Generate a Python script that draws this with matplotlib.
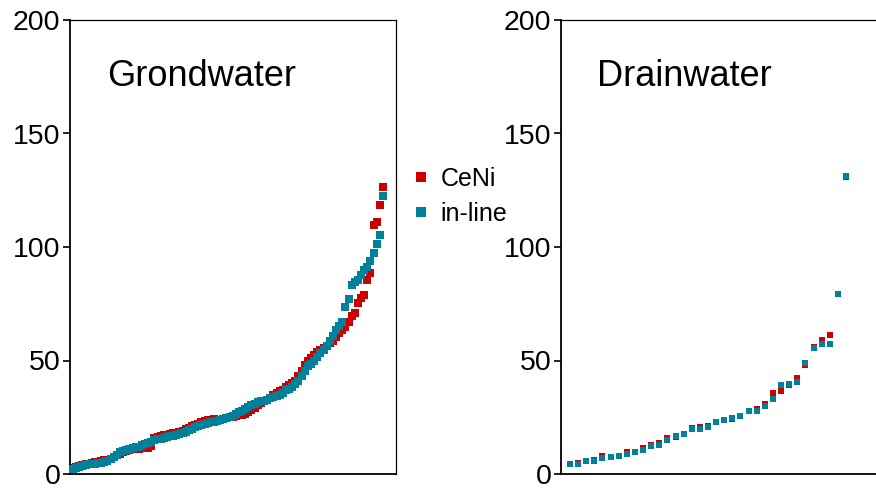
import matplotlib
matplotlib.use("Agg")
import matplotlib.pyplot as plt
from matplotlib.lines import Line2D

plt.rcParams['font.family'] = ['Liberation Sans', 'DejaVu Sans']

# Grondwater: sorted concentrations, ranked
gw_ceni = [2.5, 3.2, 3.5, 3.8, 4.2, 4.6, 5.0, 5.3, 5.5, 5.8,
           6.0, 6.2, 6.6, 7.3, 8.2, 9.0, 9.5, 10.0, 10.5, 10.8,
           11.0, 11.2, 11.3, 11.5, 11.6, 12.2, 15.8, 16.2, 16.6, 17.0,
           17.3, 17.6, 17.9, 18.2, 18.6, 18.9, 19.8, 20.4, 21.0, 21.7,
           22.2, 22.7, 23.2, 23.6, 24.0, 24.2, 23.6, 24.0, 24.3, 24.6,
           24.9, 25.2, 25.5, 25.8, 26.1, 26.5, 27.3, 28.2, 29.2, 30.2,
           31.2, 32.0, 32.7, 33.5, 34.8, 35.6, 36.4, 37.2, 38.2, 39.2,
           40.0, 41.0, 43.0, 45.5, 48.0, 49.6, 51.0, 52.4, 53.8, 54.8,
           55.5, 56.5, 57.5, 58.8, 60.5, 62.0, 63.5, 64.9, 67.0, 69.5,
           71.1, 75.5, 77.4, 78.9, 85.5, 88.5, 109.7, 111.1, 118.6, 126.6]
gw_inline = [2.0, 2.5, 3.0, 3.6, 4.0, 4.3, 4.5, 4.6, 4.7, 5.0,
             5.4, 5.8, 6.6, 7.5, 8.5, 9.5, 10.0, 10.6, 11.0, 11.4,
             11.8, 12.0, 12.6, 13.2, 13.8, 14.3, 14.8, 15.2, 15.6, 16.0,
             16.3, 16.6, 16.9, 17.2, 17.6, 17.9, 18.6, 19.2, 19.8, 20.5,
             21.0, 21.5, 22.0, 22.4, 22.8, 23.0, 23.4, 23.8, 24.2, 24.7,
             25.0, 25.6, 26.5, 27.2, 27.8, 28.6, 29.5, 30.3, 31.0, 31.5,
             32.0, 32.3, 32.6, 33.3, 34.0, 34.5, 35.0, 35.8, 36.8, 37.6,
             38.4, 39.5, 41.0, 43.0, 45.5, 47.5, 48.5, 50.0, 51.5, 53.2,
             54.8, 56.5, 58.5, 61.0, 63.5, 65.2, 67.0, 73.7, 77.0, 83.3,
             84.5, 85.5, 87.5, 90.0, 91.3, 94.0, 97.5, 101.5, 105.5, 122.5]

# Drainwater: sorted concentrations, ranked
dw_ceni = [4.4, 5.0, 5.7, 6.2, 7.9, 7.6, 8.1, 9.5, 9.7, 11.6,
           12.9, 13.6, 15.9, 16.2, 17.6, 20.1, 20.6, 21.2, 23.0, 23.9,
           24.3, 25.7, 27.9, 28.5, 30.7, 35.5, 36.7, 39.0, 42.1, 48.0,
           56.1, 59.0, 61.2, 79.4, 131.0]
dw_inline = [4.4, 4.4, 5.7, 5.7, 7.2, 7.6, 8.1, 8.8, 9.7, 10.6,
             12.3, 12.9, 15.1, 16.7, 17.6, 19.7, 20.0, 20.6, 23.0, 23.9,
             24.7, 25.7, 27.9, 27.9, 30.1, 33.2, 39.2, 39.5, 40.7, 49.0,
             55.6, 57.1, 57.4, 79.4, 131.3]

panels = ["Grondwater", "Drainwater"]
series_labels = ["CeNi", "in-line"]
colors = ["#CC0000", "#00819A"]
y_ticks = [0, 50, 100, 150, 200]

W, H = 876, 490
fig = plt.figure(figsize=(W / 100, H / 100), dpi=100)

ax1 = fig.add_axes([70 / W, 16 / H, 326 / W, 454 / H])
ax2 = fig.add_axes([561 / W, 16 / H, 315 / W, 454 / H])

datasets = [(gw_ceni, gw_inline, 27), (dw_ceni, dw_inline, 23)]
for ax, title, (ceni, inline, msize) in zip([ax1, ax2], panels, datasets):
    n = len(ceni)
    ranks = list(range(1, n + 1))
    ax.scatter(ranks, ceni, marker='s', s=msize, color=colors[0],
               linewidths=0, zorder=2, clip_on=False)
    ax.scatter(ranks, inline, marker='s', s=msize, color=colors[1],
               linewidths=0, zorder=3, clip_on=False)
    ax.set_ylim(0, 200)
    ax.set_yticks(y_ticks)
    ax.set_xticks([])
    ax.tick_params(axis='y', length=5, width=1.2, pad=2,
                   labelsize=20.5, colors='black')
    for side in ['left', 'bottom']:
        ax.spines[side].set_linewidth(1.3)
    for side in ['top', 'right']:
        ax.spines[side].set_linewidth(0.9)
    ax.text(0.113, 0.855, title, transform=ax.transAxes, fontsize=26,
            ha='left', va='baseline')

ax1.set_xlim(0.04, 104.15)
ax2.set_xlim(-0.11, 38.7)
ax2.spines['right'].set_visible(False)

handles = [Line2D([], [], marker='s', linestyle='none', markersize=7.2,
                  markerfacecolor=c, markeredgewidth=0) for c in colors]
fig.legend(handles, series_labels, loc='center left',
           bbox_to_anchor=(408 / W, (H - 196.5) / H), frameon=False,
           fontsize=18, handlelength=1.0, handletextpad=0.3,
           labelspacing=0.45, borderpad=0, borderaxespad=0)

fig.savefig("out.png", dpi=100)
